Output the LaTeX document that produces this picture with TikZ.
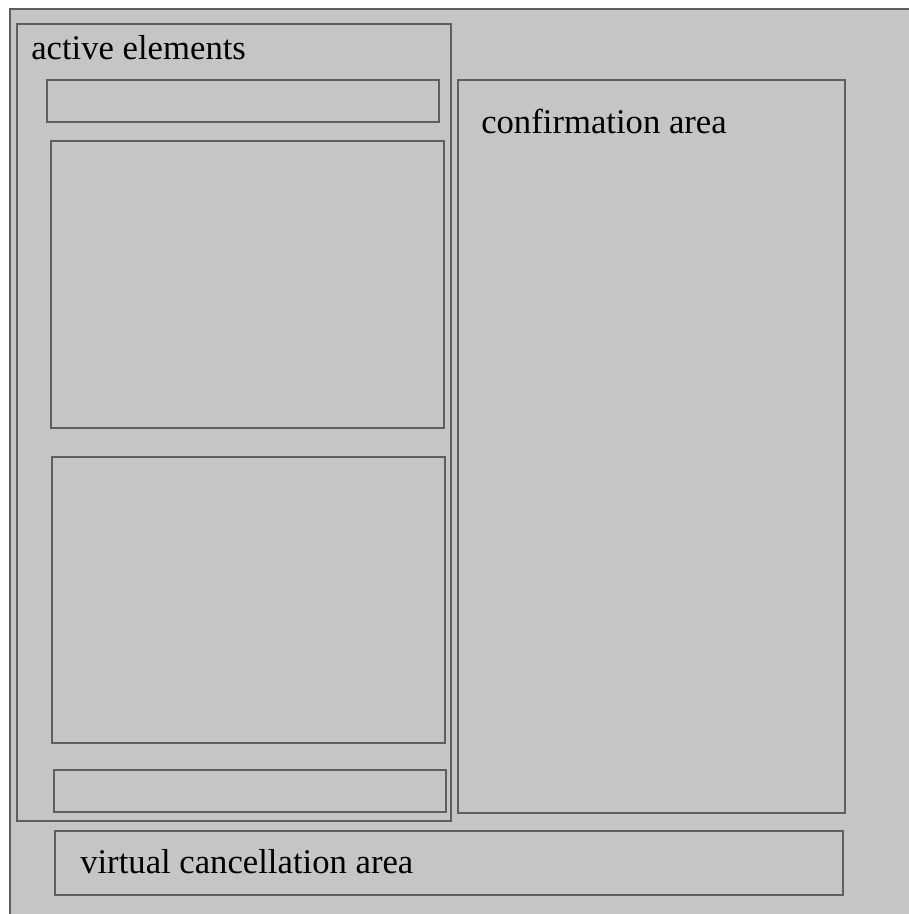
\documentclass[tikz,border=0pt]{standalone}
\usepackage{fontspec}
\setmainfont{Liberation Serif}
\definecolor{panel}{HTML}{C5C5C5}
\definecolor{edge}{HTML}{5F5F5F}
\begin{document}
\begin{tikzpicture}[x=0.75pt,y=-0.75pt,
  frame/.style={draw=edge,line width=1.4pt},
  label/.style={anchor=base west,inner sep=0pt,text=black,
    font=\fontsize{26}{30}\selectfont}]
\useasboundingbox (0,0) rectangle (909,914);
% screen background
\fill[panel] (10,9) rectangle (912,917);
\draw[frame] (10,917) -- (10,9) -- (912,9);
% active elements group
\draw[frame] (17,24) rectangle (451,821);
\node[label] (active) at (31,59) {active elements};
\draw[frame] (47,80) rectangle (439,122);
\draw[frame] (51,141) rectangle (444,428);
\draw[frame] (52,457) rectangle (445,743);
\draw[frame] (54,770) rectangle (446,812);
% confirmation area
\draw[frame] (458,80) rectangle (845,813);
\node[label] (confirm) at (481,133) {confirmation area};
% virtual cancellation area
\draw[frame] (55,831) rectangle (843,895);
\node[label] (cancel) at (80,873) {virtual cancellation area};
\end{tikzpicture}
\end{document}
